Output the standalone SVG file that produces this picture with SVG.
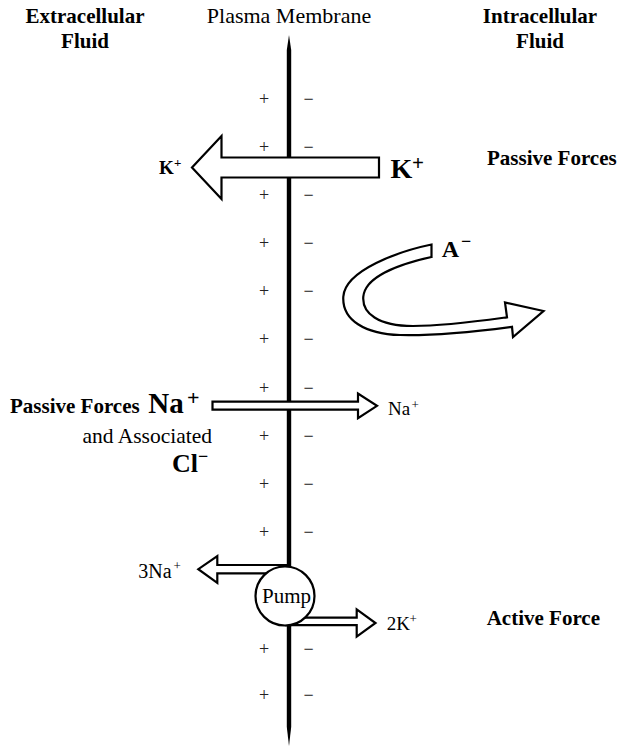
<svg xmlns="http://www.w3.org/2000/svg" width="622" height="747" viewBox="0 0 622 747">
<style>
.t{font-family:"Liberation Serif","Times New Roman",serif;fill:#000}
.b{font-weight:bold}
.pm{font-family:"Liberation Serif","Times New Roman",serif;font-size:18px;fill:#222;text-anchor:middle}
.arr{fill:#fff;stroke:#000;stroke-width:2.2;stroke-linejoin:miter}
</style>
<rect width="622" height="747" fill="#fff"/>
<g id="headers">
<text class="t b" x="85" y="23" font-size="21" text-anchor="middle">Extracellular</text>
<text class="t b" x="85" y="48" font-size="21" text-anchor="middle">Fluid</text>
<text class="t" x="289" y="23" font-size="22" text-anchor="middle">Plasma Membrane</text>
<text class="t b" x="540" y="23" font-size="21" text-anchor="middle">Intracellular</text>
<text class="t b" x="540" y="48" font-size="21" text-anchor="middle">Fluid</text>
</g>
<g id="membrane">
<path d="M289,35 L291.2,50 L291.2,727 L289,746 L286.8,727 L286.8,50 Z" fill="#000"/>
</g>
<g id="charges">
<text class="pm" x="264" y="104.5">+</text><text class="pm" x="308.5" y="104.5">−</text>
<text class="pm" x="264" y="152.8">+</text><text class="pm" x="308.5" y="152.8">−</text>
<text class="pm" x="264" y="200.5">+</text><text class="pm" x="308.5" y="200.5">−</text>
<text class="pm" x="264" y="248.8">+</text><text class="pm" x="308.5" y="248.8">−</text>
<text class="pm" x="264" y="297.2">+</text><text class="pm" x="308.5" y="297.2">−</text>
<text class="pm" x="264" y="345.2">+</text><text class="pm" x="308.5" y="345.2">−</text>
<text class="pm" x="264" y="393.5">+</text><text class="pm" x="308.5" y="393.5">−</text>
<text class="pm" x="264" y="441.8">+</text><text class="pm" x="308.5" y="441.8">−</text>
<text class="pm" x="264" y="490.2">+</text><text class="pm" x="308.5" y="490.2">−</text>
<text class="pm" x="264" y="537.8">+</text><text class="pm" x="308.5" y="537.8">−</text>
<text class="pm" x="264" y="654.5">+</text><text class="pm" x="308.5" y="654.5">−</text>
<text class="pm" x="264" y="700.5">+</text><text class="pm" x="308.5" y="700.5">−</text>
</g>
<g id="connectors">
<polygon id="k-arrow" class="arr" points="379,157.5 221.5,157.5 221.5,136 192,167.5 221.5,199 221.5,177.5 379,177.5"/>
<polygon id="na-arrow" class="arr" points="212.5,401.7 358,401.7 358,393.5 377,405.8 358,418.2 358,409.6 212.5,409.6"/>
<polygon id="na3-arrow" class="arr" points="289,565 217.3,565 217.3,556 198.3,569.2 217.3,582.8 217.3,573.3 289,573.3"/>
<polygon id="k2-arrow" class="arr" points="286,617.7 356.7,617.7 356.7,609.3 375.5,623 356.7,636.7 356.7,625.2 286,625.2"/>
<path id="a-arrow" class="arr" d="M431.5,244.5 C400,251 345,270 343.3,296.7 C342,320 365,334 400,335 C440,336 480,331 512,326.8 L513,337 L543.5,311 L505,302.5 L507,317.3 C480,321 445,326 413,326 C378,326 362,313 363.3,296.7 C365,278 395,265 431.5,257 Z"/>
</g>
<g id="pump">
<circle cx="285" cy="596" r="29.5" fill="#fff" stroke="#000" stroke-width="2.2"/>
<text class="t" x="286.5" y="603.3" font-size="21" text-anchor="middle">Pump</text>
</g>
<g id="k-labels">
<text class="t b" x="159" y="174" font-size="19">K<tspan x="174" y="167" font-size="13">+</tspan></text>
<text class="t b" x="390.5" y="178.3" font-size="28">K<tspan x="412" y="170" font-size="21">+</tspan></text>
<text class="t b" x="487" y="165" font-size="21">Passive Forces</text>
</g>
<g id="a-label">
<text class="t b" x="441.7" y="256.7" font-size="24">A<tspan x="461" y="247" font-size="18">−</tspan></text>
</g>
<g id="na-labels">
<text class="t b" x="10" y="412.7" font-size="21">Passive Forces</text>
<text class="t b" x="148.3" y="412.7" font-size="29">Na<tspan x="187" y="404.5" font-size="22">+</tspan></text>
<text class="t" x="212" y="442.5" font-size="21.5" text-anchor="end">and Associated</text>
<text class="t b" x="172" y="471.5" font-size="26">Cl<tspan x="198" y="462" font-size="18">−</tspan></text>
<text class="t" x="388" y="415" font-size="19">Na<tspan x="411.5" y="409" font-size="13">+</tspan></text>
</g>
<g id="pump-labels">
<text class="t" x="138.3" y="577.7" font-size="20">3Na<tspan x="173.5" y="570" font-size="13">+</tspan></text>
<text class="t" x="386.7" y="630" font-size="19">2K<tspan x="409.5" y="622.5" font-size="13">+</tspan></text>
<text class="t b" x="486.7" y="625" font-size="21">Active Force</text>
</g>
</svg>
